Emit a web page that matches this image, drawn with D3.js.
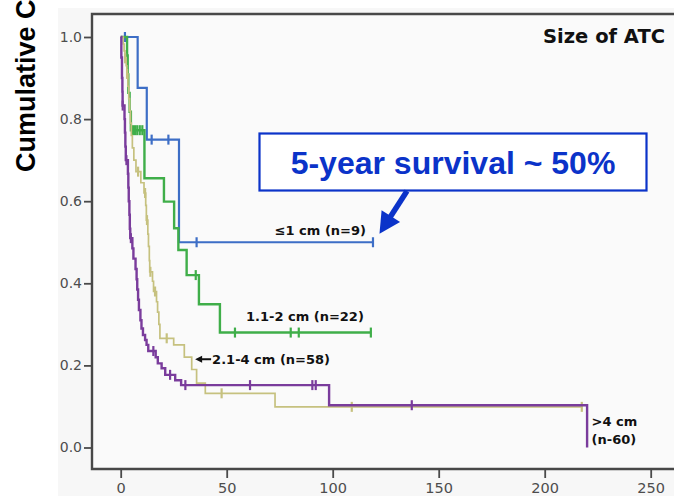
<!DOCTYPE html>
<html>
<head>
<meta charset="utf-8">
<script src="https://cdn.jsdelivr.net/npm/d3@7"></script>
<style>
  html, body { margin: 0; padding: 0; background: #fff; }
  svg { display: block; }
</style>
</head>
<body>
<svg id="chart" width="674" height="496"></svg>
<script>
// Kaplan-Meier curves by tumour size (months on x, cumulative survival on y)
const groupLabels = ["≤1 cm (n=9)", "1.1-2 cm (n=22)", "2.1-4 cm (n=58)", ">4 cm", "(n-60)"];
const xTicks = [0, 50, 100, 150, 200, 250];
const yTicks = [0.0, 0.2, 0.4, 0.6, 0.8, 1.0];

// ≤1 cm
const g1Times = [8.0, 12.3, 27.5];
const g1Surv  = [0.876, 0.75, 0.5];
const g1Censor = [2.0, 14.6, 22.5, 35.8, 119];
const g1End = 119;

// 1.1-2 cm
const g2Times = [3.0, 3.3, 3.6, 4.2, 4.8, 11.2, 20.4, 25.2, 27.2, 31.1, 36.9, 46.8];
const g2Surv  = [0.955, 0.909, 0.864, 0.818, 0.773, 0.656, 0.599, 0.534, 0.481, 0.42, 0.349, 0.28];
const g2Censor = [5.8, 6.8, 7.8, 9.0, 10.2, 35.4, 53.9, 80.2, 84.0, 118];
const g2End = 118;

// 2.1-4 cm
const g3Times = [1.2, 1.6, 2.0, 2.6, 2.9, 3.4, 3.8, 4.2, 4.6, 5.0, 5.5, 6.2, 7.2, 9.5, 11.0, 11.8, 12.1,
                 12.8, 13.1, 13.5, 13.7, 15.0, 15.5, 16.9, 17.4, 18.0, 18.5, 25.0, 30.0, 33.5, 35.8, 39.9, 72.8];
const g3Surv  = [0.983, 0.966, 0.948, 0.93, 0.91, 0.88, 0.85, 0.82, 0.79, 0.76, 0.73, 0.70, 0.672, 0.645, 0.62, 0.59, 0.554,
                 0.52, 0.49, 0.455, 0.428, 0.405, 0.38, 0.355, 0.33, 0.30, 0.266, 0.25, 0.22, 0.19, 0.157, 0.132, 0.099];
const g3Censor = [2.1, 3.0, 8.2, 11.5, 12.4, 14.0, 16.2, 21.7, 47.6, 109, 217.5];
const g3End = 217.5;

// >4 cm
const g4Times = [0.3, 0.6, 0.8, 0.9, 1.8, 2.0, 2.2, 2.4, 3.4, 3.6, 3.8, 4.1, 4.3, 4.5, 5.5, 6.0, 7.0, 7.5, 7.8, 8.2,
                 8.6, 9.3, 9.8, 10.5, 11.5, 12.2, 13.0, 16.5, 17.5, 19.3, 21.0, 25.7, 28.5, 98.3, 220];
const g4Surv  = [0.95, 0.9, 0.867, 0.833, 0.8, 0.767, 0.733, 0.70, 0.667, 0.633, 0.60, 0.567, 0.533, 0.51, 0.485, 0.46,
                 0.435, 0.41, 0.385, 0.36, 0.335, 0.31, 0.29, 0.274, 0.262, 0.25, 0.235, 0.22, 0.205, 0.193, 0.177,
                 0.164, 0.152, 0.103, 0.0];
const g4Censor = [0.95, 2.7, 4.8, 15.4, 23.3, 30.5, 61, 90.4, 92, 137.3];
const g4End = 220;

const seriesColors = ["#3d6ec6", "#3fae49", "#c6c17f", "#7a3c9c"];

const svg = d3.select("#chart");
const W = 674, H = 496;

const x = d3.scaleLinear().domain([0, 250]).range([120.7, 650.7]);
const y = d3.scaleLinear().domain([0, 1]).range([447.5, 37]);

const frameLeft = 92, frameTop = 14, frameBottom = 469;

// light panel behind the plot
svg.append("rect").attr("x", 58).attr("y", 8).attr("width", W - 58).attr("height", H - 8)
  .attr("fill", "#f7f7f7");
svg.append("rect").attr("x", frameLeft).attr("y", frameTop).attr("width", W - frameLeft + 5)
  .attr("height", frameBottom - frameTop).attr("fill", "#fafafa");

// axes
const yAxis = d3.axisLeft(y).tickValues(yTicks).tickFormat(d3.format(".1f")).tickSize(8).tickPadding(2);
const gy = svg.append("g").attr("transform", `translate(${frameLeft},0)`).call(yAxis);
gy.select(".domain").remove();
gy.selectAll(".tick line").attr("stroke", "#4a4a4a").attr("stroke-width", 1.8);
gy.selectAll(".tick text").attr("font-family", "DejaVu Sans").attr("font-size", 14).attr("fill", "#4d4d4d");

const xAxis = d3.axisBottom(x).tickValues(xTicks).tickFormat(d3.format("d")).tickSize(9).tickPadding(5);
const gx = svg.append("g").attr("transform", `translate(0,${frameBottom})`).call(xAxis);
gx.select(".domain").remove();
gx.selectAll(".tick line").attr("stroke", "#4a4a4a").attr("stroke-width", 1.8);
gx.selectAll(".tick text").attr("font-family", "DejaVu Sans").attr("font-size", 14.5).attr("fill", "#4d4d4d");

// plot frame
svg.append("path")
  .attr("d", `M${W + 5},${frameTop}H${frameLeft}V${frameBottom}H${W + 5}`)
  .attr("fill", "none").attr("stroke", "#484848").attr("stroke-width", 2.4);

// y axis title
svg.append("text")
  .attr("transform", "translate(35,172) rotate(-90)")
  .attr("font-family", "Liberation Sans, Arial, sans-serif")
  .attr("font-weight", "bold").attr("font-size", 27).attr("fill", "#000")
  .text("Cumulative Cause-Specific Survival");

// survival curves
const groups = [
  { times: g1Times, surv: g1Surv, censor: g1Censor, end: g1End, width: 2.2 },
  { times: g2Times, surv: g2Surv, censor: g2Censor, end: g2End, width: 2.4 },
  { times: g3Times, surv: g3Surv, censor: g3Censor, end: g3End, width: 1.7 },
  { times: g4Times, surv: g4Surv, censor: g4Censor, end: g4End, width: 2.4 }
];

const stepLine = d3.line().x(d => x(d[0])).y(d => y(d[1])).curve(d3.curveStepAfter);

function survivalAt(g, t) {
  let s = 1;
  g.times.forEach((tt, i) => { if (tt <= t) s = g.surv[i]; });
  return s;
}

groups.forEach((g, i) => {
  const pts = [[0, 1]].concat(g.times.map((t, k) => [t, g.surv[k]]));
  const last = pts[pts.length - 1];
  if (g.end > last[0]) pts.push([g.end, last[1]]);
  const col = seriesColors[i];
  svg.append("path").datum(pts).attr("d", stepLine)
    .attr("fill", "none").attr("stroke", col).attr("stroke-width", g.width);
  svg.append("g").selectAll("line").data(g.censor).join("line")
    .attr("x1", d => x(d)).attr("x2", d => x(d))
    .attr("y1", d => y(survivalAt(g, d)) - 5).attr("y2", d => y(survivalAt(g, d)) + 5)
    .attr("stroke", col).attr("stroke-width", 2.2);
});

// curve labels
const lab = (tx, ty, s, anchor) => svg.append("text")
  .attr("x", tx).attr("y", ty).attr("text-anchor", anchor || "start")
  .attr("font-family", "DejaVu Sans").attr("font-weight", "bold").attr("font-size", 13)
  .attr("fill", "#111").text(s);

lab(x(g1End) - 7, y(0.5) - 7.5, groupLabels[0], "end");
lab(x(g2End) - 7, y(0.28) - 11.5, groupLabels[1], "end");
lab(x(35.1) + 17, y(0.215) + 4.5, groupLabels[2]);
lab(x(g4End) + 4.5, y(0.103) + 20.5, groupLabels[3]);
lab(x(g4End) + 4.5, y(0.103) + 39, groupLabels[4]);

// pointer for the 2.1-4 cm label
const ax = x(35.1), ay = y(0.215);
svg.append("path")
  .attr("d", `M${ax},${ay}l7,-3.5v7z`).attr("fill", "#111");
svg.append("line").attr("x1", ax + 5).attr("x2", ax + 16).attr("y1", ay).attr("y2", ay)
  .attr("stroke", "#111").attr("stroke-width", 2);

// panel title
svg.append("text").attr("x", 665).attr("y", 42.7).attr("text-anchor", "end")
  .attr("font-family", "DejaVu Sans").attr("font-weight", "bold").attr("font-size", 19.5)
  .attr("fill", "#111").text("Size of ATC");

// callout box
const boxColor = "#0b33c9";
svg.append("rect").attr("x", 259.5).attr("y", 133.5).attr("width", 387).attr("height", 57)
  .attr("fill", "#fff").attr("stroke", boxColor).attr("stroke-width", 2.2);
svg.append("text").attr("x", 453).attr("y", 174).attr("text-anchor", "middle")
  .attr("font-family", "Liberation Sans, Arial, sans-serif").attr("font-weight", "bold")
  .attr("font-size", 32).attr("fill", boxColor).text("5-year survival ~ 50%");

// callout arrow towards the end of the ≤1 cm curve
const tipX = x(g1End) + 6.5, tipY = y(0.5) - 8.5;
const tailX = 407, tailY = 191;
const dx = tipX - tailX, dy = tipY - tailY, len = Math.hypot(dx, dy);
const ux = dx / len, uy = dy / len, px = -uy, py = ux;
const headLen = 21, headHalf = 11;
const bx = tipX - ux * headLen, by = tipY - uy * headLen;
svg.append("line").attr("x1", tailX).attr("y1", tailY).attr("x2", bx + ux * 2).attr("y2", by + uy * 2)
  .attr("stroke", boxColor).attr("stroke-width", 5.5);
svg.append("path")
  .attr("d", `M${tipX},${tipY}L${bx + px * headHalf},${by + py * headHalf}L${bx - px * headHalf},${by - py * headHalf}Z`)
  .attr("fill", boxColor);
</script>
</body>
</html>
